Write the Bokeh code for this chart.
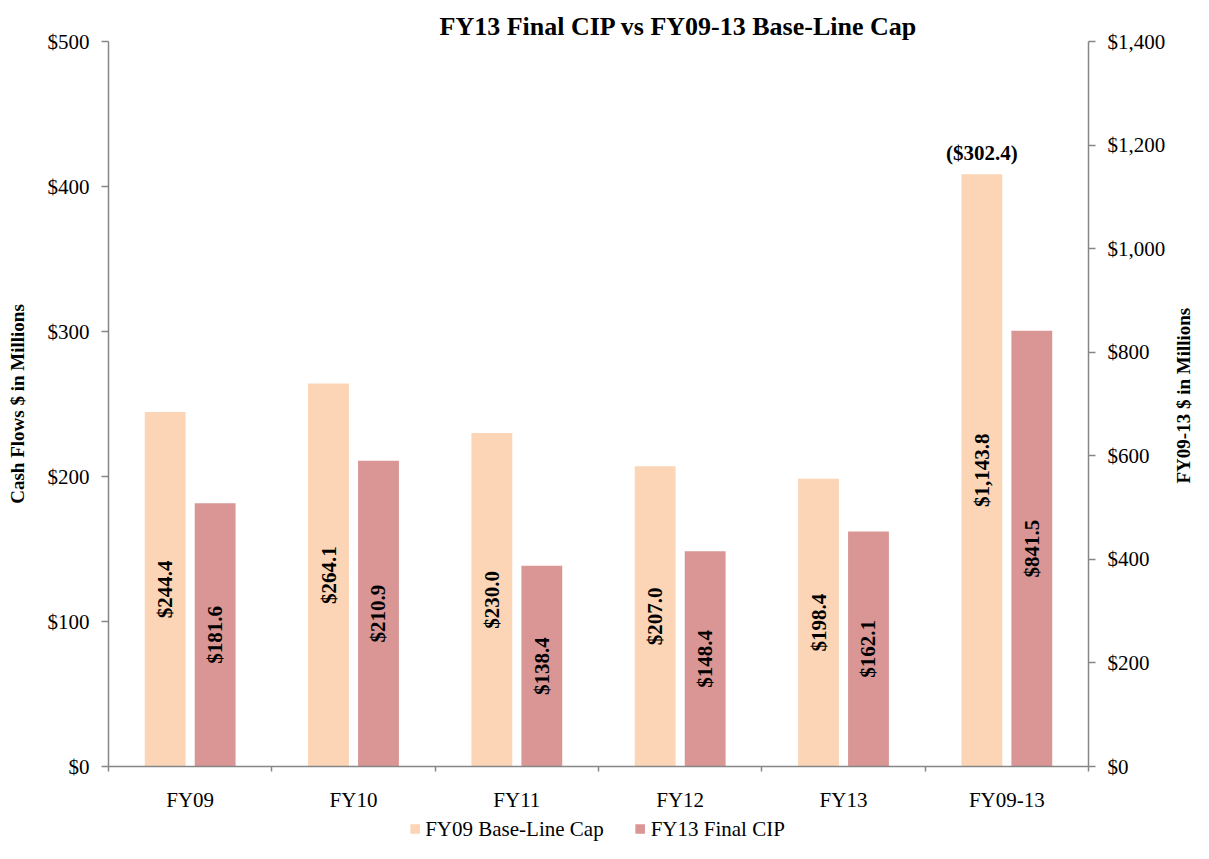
import numpy as np
from bokeh.plotting import figure
from bokeh.layouts import column, row
from bokeh.models import (ColumnDataSource, Range1d, LinearAxis, FixedTicker,
                          NumeralTickFormatter, Legend, LegendItem, Title)
from bokeh.transform import dodge
from bokeh.core.properties import value
from bokeh.embed import file_html
from bokeh.resources import INLINE

# ---- data ----
categories = ["FY09", "FY10", "FY11", "FY12", "FY13", "FY09-13"]
baseline_cap = [244.4, 264.1, 230.0, 207.0, 198.4, 1143.8]
final_cip = [181.6, 210.9, 138.4, 148.4, 162.1, 841.5]
baseline_labels = ["$244.4", "$264.1", "$230.0", "$207.0", "$198.4", "$1,143.8"]
final_labels = ["$181.6", "$210.9", "$138.4", "$148.4", "$162.1", "$841.5"]
total_variance_label = "($302.4)"
left_ticks = [0, 100, 200, 300, 400, 500]
right_ticks = [0, 200, 400, 600, 800, 1000, 1200, 1400]
series_names = ["FY09 Base-Line Cap", "FY13 Final CIP"]
chart_title = "FY13 Final CIP vs FY09-13 Base-Line Cap"
left_axis_title = "Cash Flows $ in Millions"
right_axis_title = "FY09-13 $ in Millions"

FONT = "Liberation Serif"
PEACH = "#FBD5B5"
ROSE = "#D99694"
AXIS_GRAY = "#868686"
TXT = "#000000"

MAIN_W, MAIN_H = 1170, 814
SIDE_W = 23
LEG_H = 29
TOP, BOT = 41, 48

n_years = len(categories) - 1
centers = [i + 0.5 for i in range(len(categories))]

annual = ColumnDataSource(dict(
    x=centers[:n_years],
    base=baseline_cap[:n_years],
    base_mid=[v / 2 for v in baseline_cap[:n_years]],
    base_lbl=baseline_labels[:n_years],
    fin=final_cip[:n_years],
    fin_mid=[v / 2 for v in final_cip[:n_years]],
    fin_lbl=final_labels[:n_years],
))
total = ColumnDataSource(dict(
    x=centers[n_years:],
    base=baseline_cap[n_years:],
    base_mid=[v / 2 for v in baseline_cap[n_years:]],
    base_lbl=baseline_labels[n_years:],
    fin=final_cip[n_years:],
    fin_mid=[v / 2 for v in final_cip[n_years:]],
    fin_lbl=final_labels[n_years:],
    var_lbl=[total_variance_label],
))

p = figure(width=MAIN_W, height=MAIN_H, output_backend="svg", toolbar_location=None,
           x_range=Range1d(0, len(categories)), y_range=Range1d(left_ticks[0], left_ticks[-1]),
           x_axis_type=None, y_axis_type=None,
           min_border_left=108, min_border_right=MAIN_W - 1088, min_border_top=TOP,
           min_border_bottom=BOT)
p.extra_y_ranges = {"total": Range1d(right_ticks[0], right_ticks[-1])}
p.outline_line_color = None
p.xgrid.visible = False
p.ygrid.visible = False

OFF = 0.153
W = 0.25

p.vbar(x=dodge("x", -OFF, range=p.x_range), top="base", width=W, source=annual,
       fill_color=PEACH, line_color=None)
p.vbar(x=dodge("x", OFF, range=p.x_range), top="fin", width=W, source=annual,
       fill_color=ROSE, line_color=None)
p.vbar(x=dodge("x", -OFF, range=p.x_range), top="base", width=W, source=total,
       fill_color=PEACH, line_color=None, y_range_name="total")
p.vbar(x=dodge("x", OFF, range=p.x_range), top="fin", width=W, source=total,
       fill_color=ROSE, line_color=None, y_range_name="total")

lbl_kw = dict(angle=np.pi / 2, text_align="center", text_baseline="middle",
              text_font=value(FONT), text_font_style="bold", text_font_size="21px",
              text_color=TXT)
p.text(x=dodge("x", -OFF, range=p.x_range), y="base_mid", text="base_lbl", source=annual, **lbl_kw)
p.text(x=dodge("x", OFF, range=p.x_range), y="fin_mid", text="fin_lbl", source=annual, **lbl_kw)
p.text(x=dodge("x", -OFF, range=p.x_range), y="base_mid", text="base_lbl", source=total,
       y_range_name="total", **lbl_kw)
p.text(x=dodge("x", OFF, range=p.x_range), y="fin_mid", text="fin_lbl", source=total,
       y_range_name="total", **lbl_kw)
p.text(x=dodge("x", -OFF, range=p.x_range), y="base", text="var_lbl", source=total,
       y_range_name="total", y_offset=-9, text_align="center", text_baseline="bottom",
       text_font=value(FONT), text_font_style="bold", text_font_size="21px", text_color=TXT)

def style_axis(ax):
    ax.axis_line_color = AXIS_GRAY
    ax.axis_line_width = 1.5
    ax.major_tick_line_color = AXIS_GRAY
    ax.major_tick_line_width = 1.5
    ax.minor_tick_line_color = AXIS_GRAY
    ax.minor_tick_line_width = 1.5
    ax.major_label_text_font = FONT
    ax.major_label_text_font_size = "21px"
    ax.major_label_text_color = TXT
    ax.axis_label_text_font = FONT
    ax.axis_label_text_font_size = "19px"
    ax.axis_label_text_font_style = "bold"
    ax.axis_label_text_color = TXT

left = LinearAxis(ticker=FixedTicker(ticks=left_ticks), formatter=NumeralTickFormatter(format="$0,0"),
                  axis_label=left_axis_title)
style_axis(left)
left.major_tick_in = 0
left.major_tick_out = 7
left.minor_tick_out = 0
left.minor_tick_in = 0
left.major_label_standoff = 12
left.axis_label_standoff = 17
p.add_layout(left, "left")

right = LinearAxis(y_range_name="total", ticker=FixedTicker(ticks=right_ticks),
                   formatter=NumeralTickFormatter(format="$0,0"))
style_axis(right)
right.major_tick_in = 0
right.major_tick_out = 7
right.minor_tick_out = 0
right.minor_tick_in = 0
right.major_label_standoff = 12
p.add_layout(right, "right")

bottom = LinearAxis(ticker=FixedTicker(ticks=centers, minor_ticks=list(range(len(categories) + 1))),
                    major_label_overrides={c: cat for c, cat in zip(centers, categories)})
style_axis(bottom)
bottom.major_tick_in = 0
bottom.major_tick_out = 0
bottom.minor_tick_in = 0
bottom.minor_tick_out = 5
bottom.major_label_standoff = 16
p.add_layout(bottom, "below")

p.add_layout(Title(text=chart_title, align="left", offset=331,
                   text_font=FONT, text_font_size="26px", text_font_style="bold",
                   text_color=TXT, standoff=2), "above")

# right-hand axis title (reads bottom-to-top) in a thin companion figure
side = figure(width=SIDE_W, height=MAIN_H, output_backend="svg", toolbar_location=None,
              x_axis_type=None, y_axis_type=None, min_border_left=0, min_border_right=0,
              min_border_top=TOP, min_border_bottom=BOT)
side.outline_line_color = None
side.add_layout(Title(text=right_axis_title, align="left", offset=283, text_font=FONT,
                      text_font_size="19px", text_font_style="bold", text_color=TXT,
                      standoff=0), "left")

# legend strip: its renderers use the real data but lie far outside the strip's view
lg = figure(width=MAIN_W + SIDE_W, height=LEG_H, output_backend="svg", toolbar_location=None,
            x_axis_type=None, y_axis_type=None, min_border=0,
            x_range=Range1d(-20, -19), y_range=Range1d(-2000, -1999))
lg.outline_line_color = None
lg.xgrid.visible = False
lg.ygrid.visible = False
lr_base = lg.vbar(x="x", top="base", width=W, source=annual, fill_color=PEACH, line_color=None)
lr_fin = lg.vbar(x="x", top="fin", width=W, source=annual, fill_color=ROSE, line_color=None)
legend = Legend(items=[LegendItem(label=series_names[0], renderers=[lr_base]),
                       LegendItem(label=series_names[1], renderers=[lr_fin])],
                orientation="horizontal", location="center",
                glyph_width=12, glyph_height=12, label_standoff=5, spacing=30,
                label_text_font=FONT, label_text_font_size="21px", label_text_color=TXT,
                border_line_color=None, background_fill_alpha=0, padding=0, margin=0)
lg.add_layout(legend)

layout = column(row(p, side, spacing=0), lg, spacing=0)
open("out.html", "w").write(file_html(layout, INLINE))
